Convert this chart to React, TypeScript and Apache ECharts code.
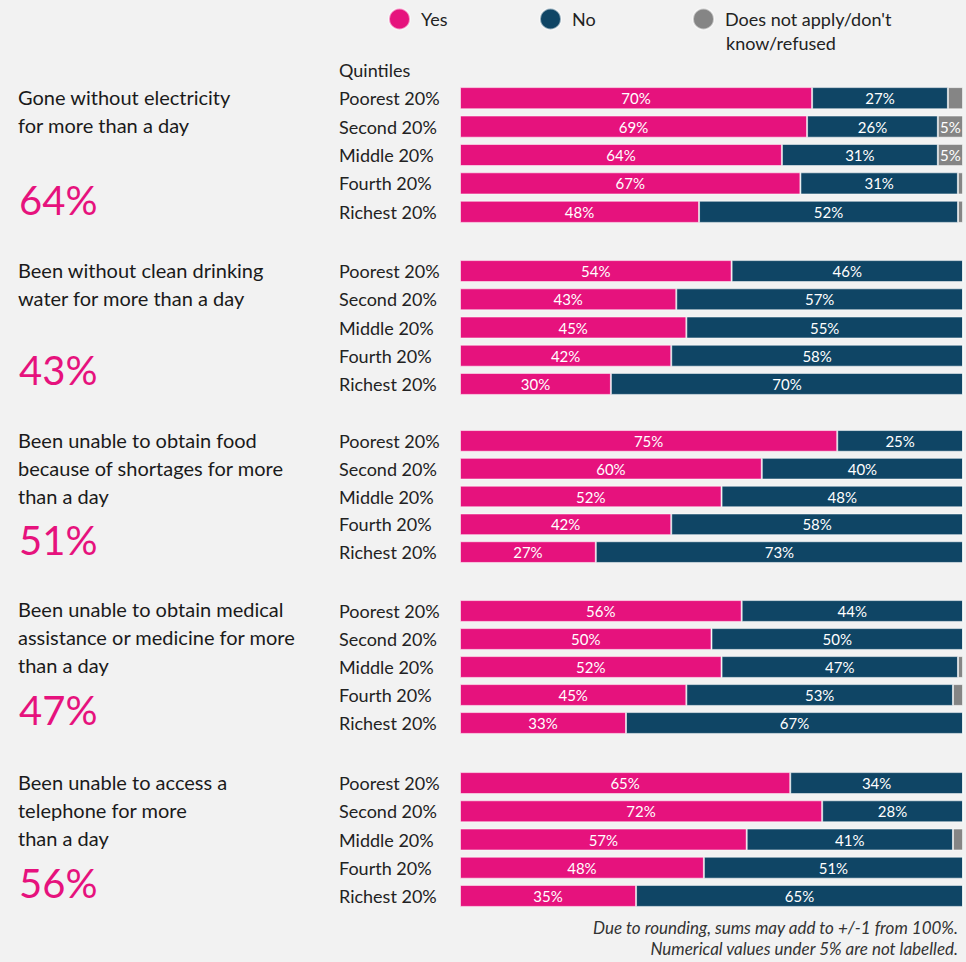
import React, { useEffect, useRef } from "react";
import * as echarts from "echarts";

const categories = ["Poorest 20%", "Second 20%", "Middle 20%", "Fourth 20%", "Richest 20%"];
const topics = [
  "Gone without electricity\nfor more than a day",
  "Been without clean drinking\nwater for more than a day",
  "Been unable to obtain food\nbecause of shortages for more\nthan a day",
  "Been unable to obtain medical\nassistance or medicine for more\nthan a day",
  "Been unable to access a\ntelephone for more\nthan a day",
];
const totals = ["64%", "43%", "51%", "47%", "56%"];
const yesValues = [
  [70, 69, 64, 67, 48],
  [54, 43, 45, 42, 30],
  [75, 60, 52, 42, 27],
  [56, 50, 52, 45, 33],
  [65, 72, 57, 48, 35],
];
const noValues = [
  [27, 26, 31, 31, 52],
  [46, 57, 55, 58, 70],
  [25, 40, 48, 58, 73],
  [44, 50, 47, 53, 67],
  [34, 28, 41, 51, 65],
];
const dnaValues = [
  [3, 5, 5, 1, 1],
  [0, 0, 0, 0, 0],
  [0, 0, 0, 0, 0],
  [0, 0, 1, 2, 0],
  [0, 0, 2, 0, 0],
];
const seriesNames = ["Yes", "No", "Does not apply/don't know/refused"];
const legendLines = ["Does not apply/don't", "know/refused"];
const notes = [
  "Due to rounding, sums may add to +/-1 from 100%.",
  "Numerical values under 5% are not labelled.",
];

const PINK = "#e6127d";
const NAVY = "#0f4565";
const GREY = "#858585";
const FONT = "Lato, 'Source Sans Pro', 'Noto Sans', sans-serif";

// layout of each panel (pixel positions)
const gridTops = [84, 257, 427, 597, 769];
const gridHeights = [142, 141, 139, 140, 141];
const titleTops = [83, 256, 426, 595, 768];
const bigY = [200, 370, 540, 710, 883];

export default function App() {
  const ref = useRef<HTMLDivElement>(null);
  useEffect(() => {
    document.body.style.margin = "0";
    const chart = echarts.init(ref.current!, null, { renderer: "svg" });
    const grids: any[] = [];
    const xAxes: any[] = [];
    const yAxes: any[] = [];
    const series: any[] = [];
    const graphics: any[] = [];
    for (let p = 0; p < 5; p++) {
      grids.push({ left: 460, right: 3, top: gridTops[p], height: gridHeights[p] });
      xAxes.push({ gridIndex: p, type: "value", min: 0, max: 100, show: false });
      yAxes.push({
        gridIndex: p,
        type: "category",
        data: categories,
        inverse: true,
        axisLine: { show: false },
        axisTick: { show: false },
        axisLabel: { align: "left", margin: 121, fontSize: 18, color: "#222", fontFamily: FONT },
      });
      const sets = [yesValues[p], noValues[p], dnaValues[p]];
      const colors = [PINK, NAVY, GREY];
      sets.forEach((vals, s) => {
        series.push({
          name: seriesNames[s],
          type: "bar",
          xAxisIndex: p,
          yAxisIndex: p,
          stack: "p" + p,
          barCategoryGap: "22%",
          itemStyle: { color: colors[s], borderColor: "rgba(255,255,255,0.55)", borderWidth: 1 },
          label: {
            show: true,
            position: "inside",
            color: "#fff",
            fontSize: 15,
            fontFamily: FONT,
            formatter: (d: any) => (d.data.raw >= 5 ? d.data.raw + "%" : ""),
          },
          data: vals.map((v, i) => {
            const sum = yesValues[p][i] + noValues[p][i] + dnaValues[p][i];
            return { value: (v * 100) / sum, raw: v };
          }),
        });
      });
      graphics.push({
        type: "text",
        left: 18,
        top: titleTops[p],
        style: { text: topics[p], fill: "#1a1a1a", font: "20px " + FONT, lineHeight: 28 },
      });
      graphics.push({
        type: "text",
        x: 19,
        y: bigY[p],
        style: { text: totals[p], fill: PINK, font: "40px " + FONT, verticalAlign: "middle" },
      });
    }
    graphics.push({
      type: "text",
      x: 339,
      y: 70,
      style: { text: "Quintiles", fill: "#222", font: "18px " + FONT, verticalAlign: "middle" },
    });
    graphics.push({
      type: "text",
      x: 726,
      y: 43,
      style: { text: legendLines[1], fill: "#222", font: "18px " + FONT, verticalAlign: "middle" },
    });
    notes.forEach((n, i) => {
      graphics.push({
        type: "text",
        x: 958,
        y: 927 + i * 21,
        style: {
          text: n,
          fill: "#333",
          font: "italic 17px " + FONT,
          align: "right",
          verticalAlign: "middle",
        },
      });
    });
    const legendBase = {
      icon: "circle",
      itemWidth: 21,
      itemHeight: 21,
      itemGap: 10,
      textStyle: { fontSize: 18, color: "#222", fontFamily: FONT, lineHeight: 24, padding: [0, 0, 0, 6] },
    };
    chart.setOption({
      animation: false,
      backgroundColor: "#f2f2f2",
      legend: [
        { ...legendBase, data: [seriesNames[0]], left: 383, top: 2 },
        { ...legendBase, data: [seriesNames[1]], left: 534, top: 2 },
        {
          ...legendBase,
          data: [seriesNames[2]],
          left: 687,
          top: 2,
          formatter: () => legendLines[0],
        },
      ],
      grid: grids,
      xAxis: xAxes,
      yAxis: yAxes,
      series,
      graphic: graphics,
    });
    return () => chart.dispose();
  }, []);
  return <div ref={ref} style={{ position: "absolute", left: 0, top: 0, width: 966, height: 962 }} />;
}
